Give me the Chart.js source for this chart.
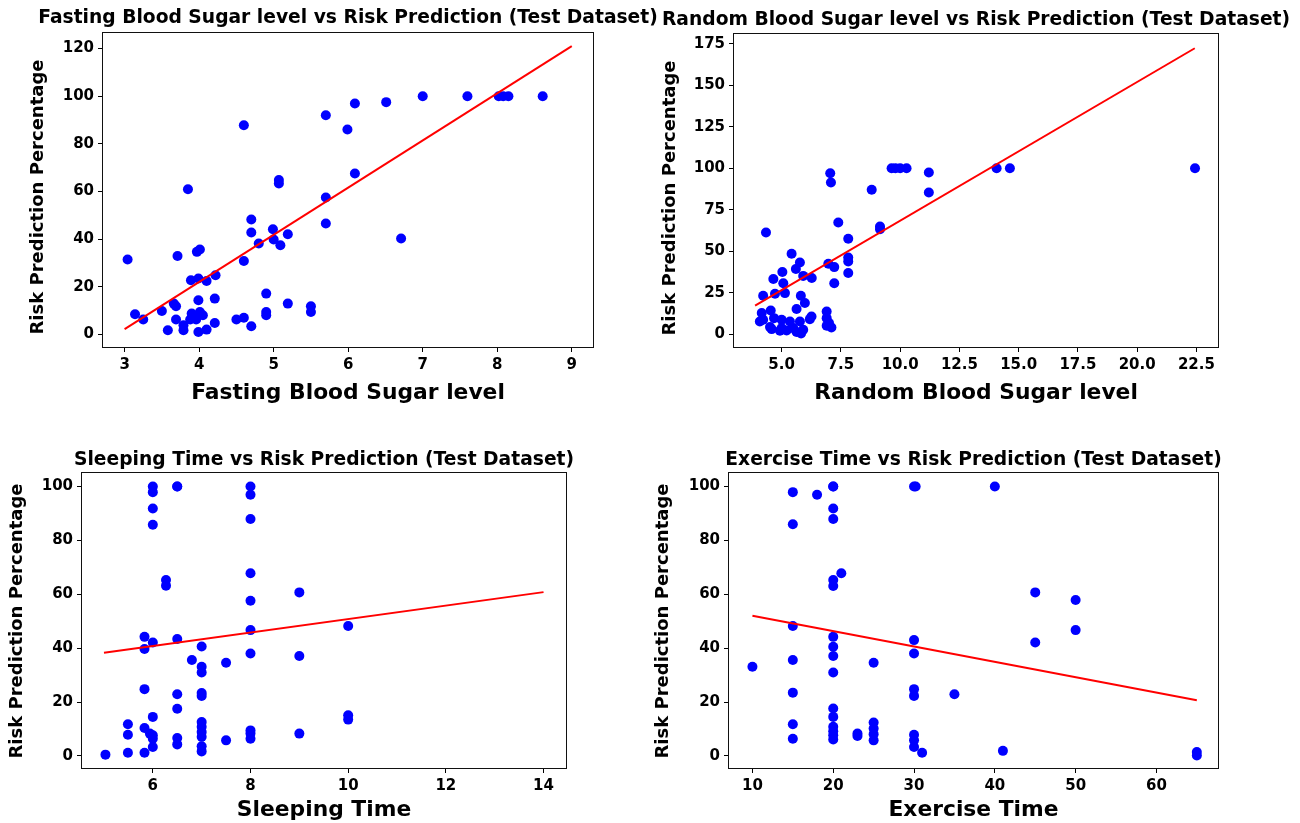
<!DOCTYPE html>
<html>
<head>
<meta charset="utf-8">
<script src="https://cdn.jsdelivr.net/npm/chart.js@4.4.0/dist/chart.umd.min.js"></script>
<style>
  body { margin: 0; background: #fff; }
  #wrap { position: relative; width: 1300px; height: 823px; overflow: hidden; }
  canvas { position: absolute; }
</style>
</head>
<body>
<div id="wrap">
  <canvas id="c1" width="700" height="420" style="left:0;top:0"></canvas>
  <canvas id="c2" width="650" height="420" style="left:650px;top:0"></canvas>
  <canvas id="c3" width="650" height="383" style="left:0;top:440px"></canvas>
  <canvas id="c4" width="650" height="383" style="left:650px;top:440px"></canvas>
</div>
<script>
// fasting blood sugar vs risk
const fbsX = [3.04, 3.14, 3.25, 3.5, 3.58, 3.66, 3.69, 3.69, 3.71, 3.79, 3.79, 3.85, 3.89, 3.99, 4.1, 4.22,
  3.97, 4.01, 3.99, 4.21, 3.9, 4.01, 4.05, 3.88, 3.96, 3.99, 4.1, 4.21, 4.5, 4.6, 4.6, 4.6, 4.7, 4.7, 4.7,
  4.8, 4.9, 4.9, 4.9, 4.99, 5.0, 5.07, 5.07, 5.09, 5.19, 5.19, 5.5, 5.5, 5.7, 5.7, 5.7, 5.99, 6.09, 6.09,
  6.51, 6.71, 7.0, 7.6, 8.02, 8.08, 8.15, 8.61];
const fbsY = [31.5, 8.5, 6.3, 9.9, 1.8, 13, 11.9, 6.3, 33, 3.9, 1.8, 61, 22.8, 23.5, 22.5, 24.9,
  34.7, 35.7, 14.4, 15.1, 8.8, 9.5, 8.1, 6.3, 6.3, 1.1, 2.1, 4.9, 6.3, 7.1, 87.8, 30.9, 3.5, 48.3, 42.8,
  38.2, 17.2, 9.5, 8.1, 44.2, 39.9, 64.8, 63.4, 37.5, 42.1, 13.0, 11.9, 9.5, 92, 57.5, 46.6, 86, 96.9, 67.6,
  97.5, 40.3, 100, 100, 100, 100, 100, 100];
const fbsFitX = [3, 9];
const fbsFitY = [2.3, 121];
const fbsXTicks = [3, 4, 5, 6, 7, 8, 9];
const fbsYTicks = [0, 20, 40, 60, 80, 100, 120];

// random blood sugar vs risk
const rbsX = [4.34, 4.22, 4.65, 5.03, 5.07, 4.72, 5.14, 5.42, 5.6, 5.77, 5.91, 6.27, 5.81, 5.98, 5.63,
  4.16, 4.54, 4.22, 4.68, 5.0, 4.08, 4.51, 5.0, 5.35, 5.77, 6.19, 6.26, 5.49, 5.91, 5.21, 4.58, 4.93, 5.63,
  5.82, 6.9, 6.9, 7.0, 6.9, 7.1, 6.97, 7.22, 7.22, 7.05, 7.08, 7.39, 7.81, 7.81, 7.81, 7.81, 8.8, 9.15,
  9.15, 9.64, 9.8, 10.0, 10.27, 11.21, 11.21, 14.07, 14.63, 22.44];
const rbsY = [61.3, 23.1, 33.2, 37.4, 30.7, 24.3, 24.7, 48.4, 39.2, 43.2, 35.1, 33.8, 23.1, 18.7, 15.1,
  12.7, 14.2, 8.6, 9.6, 8.6, 7.6, 4.2, 3.6, 7.6, 7.6, 9.0, 10.6, 3.6, 2.6, 2.2, 3.0, 2.0, 1.2,
  0.4, 13.6, 9.6, 6.6, 5.0, 4.0, 42.4, 40.4, 30.7, 97, 91.4, 67.3, 57.5, 46.2, 43.8, 36.8, 87, 64.9,
  63.3, 100, 100, 100, 100, 97.5, 85.4, 100, 100, 100];
const rbsFitX = [3.88, 22.43];
const rbsFitY = [17.1, 172.4];
const rbsXTicks = [5, 7.5, 10, 12.5, 15, 17.5, 20, 22.5];
const rbsYTicks = [0, 25, 50, 75, 100, 125, 150, 175];

// sleeping time vs risk
const sleepX = [5.03, 5.49, 5.49, 5.49, 5.83, 5.83, 5.94, 5.83, 5.83, 5.83, 6, 6, 6, 6, 6, 6, 6, 6, 6,
  6.27, 6.27, 6.5, 6.5, 6.5, 6.5, 6.5, 6.5, 6.5, 6.8, 7, 7, 7, 7, 7, 7, 7, 7, 7, 7, 7, 7.5, 7.5,
  8, 8, 8, 8, 8, 8, 8, 8, 8, 8, 9, 9, 9, 10, 10, 10];
const sleepY = [0.5, 1.2, 7.9, 11.8, 1.2, 10.4, 8.3, 24.8, 39.7, 44.2, 100, 97.9, 91.8, 85.8, 42.1, 14.5, 7.7, 6.4, 3.3,
  65.3, 63.2, 100, 100, 43.4, 22.9, 17.5, 6.7, 4.3, 35.6, 40.6, 33.1, 31.0, 23.4, 22.3, 12.6, 10.8, 8.9, 7.1, 3.6, 1.7, 34.6, 5.8,
  100, 96.9, 87.9, 67.8, 57.6, 46.7, 38.0, 9.5, 8.3, 6.4, 60.7, 37.1, 8.3, 48.2, 15.1, 13.5];
const sleepFitX = [5, 14];
const sleepFitY = [38.3, 60.8];
const sleepXTicks = [6, 8, 10, 12, 14];
const sleepYTicks = [0, 20, 40, 60, 80, 100];

// exercise time vs risk
const exX = [10, 15, 15, 15, 15, 15, 15, 15, 18, 20, 20, 20, 20, 21, 20, 20, 20, 20, 20, 20, 20, 20, 20, 20, 20, 20,
  23, 23, 25, 25, 25, 25, 25, 30, 30.2, 30, 30, 30, 30, 30, 30, 30, 31, 35, 40, 41, 45, 45, 50, 50, 65, 65];
const exY = [33.1, 97.9, 86.0, 48.2, 35.6, 23.5, 11.8, 6.4, 96.9, 100, 100, 91.8, 87.9, 67.8, 65.3, 63.1, 44.2, 40.5,
  37.1, 31.0, 17.6, 14.5, 10.8, 9.2, 7.7, 6.1, 8.3, 7.4, 34.6, 12.4, 10.2, 8.1, 5.8, 100, 100, 43.0, 38.0, 24.8, 22.3,
  7.9, 5.8, 3.3, 1.2, 22.9, 100, 1.9, 60.7, 42.1, 57.9, 46.7, 1.5, 0.2];
const exFitX = [10, 65];
const exFitY = [52, 20.7];
const exXTicks = [10, 20, 30, 40, 50, 60];
const exYTicks = [0, 20, 40, 60, 80, 100];

const yLabel = 'Risk Prediction Percentage';

Chart.defaults.font.family = '"DejaVu Sans", sans-serif';
Chart.defaults.font.weight = 'bold';
Chart.defaults.color = '#000';

// frame round the plot area, the panel title and the y label
const panelPlugin = {
  id: 'panel',
  afterDraw(chart, args, opts) {
    const { ctx, chartArea: a } = chart;
    ctx.save();
    ctx.strokeStyle = '#111';
    ctx.lineWidth = 1;
    ctx.strokeRect(a.left - 0.5, a.top - 0.5, a.right - a.left + 1, a.bottom - a.top + 1);
    ctx.fillStyle = '#000';
    ctx.textAlign = 'center';
    ctx.textBaseline = 'middle';
    ctx.font = 'bold 18.7px "DejaVu Sans"';
    ctx.fillText(opts.title, (a.left + a.right) / 2, opts.titleY);
    ctx.translate(opts.labelX, opts.labelY);
    ctx.rotate(-Math.PI / 2);
    ctx.font = 'bold 18px "DejaVu Sans"';
    ctx.fillText(yLabel, 0, 0);
    ctx.restore();
  }
};

function makeChart(id, p) {
  const points = p.x.map((v, i) => ({ x: v, y: p.y[i] }));
  const fit = p.fitX.map((v, i) => ({ x: v, y: p.fitY[i] }));
  const tickFont = { size: 15, weight: 'bold' };
  return new Chart(document.getElementById(id), {
    type: 'scatter',
    data: {
      datasets: [
        { data: fit, showLine: true, borderColor: 'red', borderWidth: 2, pointRadius: 0, order: 1 },
        { data: points, backgroundColor: 'blue', pointRadius: 5, borderWidth: 0, order: 2 }
      ]
    },
    options: {
      responsive: false,
      animation: false,
      events: [],
      layout: { padding: { top: p.top, right: p.right, left: 0, bottom: 0 } },
      plugins: {
        legend: { display: false },
        tooltip: { enabled: false },
        panel: { title: p.title, titleY: p.titleY, labelX: p.labelX, labelY: p.labelY }
      },
      scales: {
        x: {
          type: 'linear',
          min: p.xMin, max: p.xMax,
          afterFit: s => { s.height = p.xh; },
          afterBuildTicks: s => { s.ticks = p.xTicks.map(v => ({ value: v })); },
          ticks: { font: tickFont, padding: 4, maxRotation: 0, autoSkip: false,
            callback: v => v.toFixed(p.xDec) },
          grid: { drawOnChartArea: false, color: '#000', tickLength: 5 },
          border: { display: false },
          title: { display: true, text: p.xLabel, font: { size: 21.8, weight: 'bold' },
            padding: { top: 0, bottom: p.xPad } }
        },
        y: {
          type: 'linear',
          min: p.yMin, max: p.yMax,
          afterFit: s => { s.width = p.yw; },
          afterBuildTicks: s => { s.ticks = p.yTicks.map(v => ({ value: v })); },
          ticks: { font: tickFont, padding: 4, autoSkip: false, callback: v => String(v) },
          grid: { drawOnChartArea: false, color: '#000', tickLength: 5 },
          border: { display: false }
        }
      }
    },
    plugins: [panelPlugin]
  });
}

makeChart('c1', {
  x: fbsX, y: fbsY, fitX: fbsFitX, fitY: fbsFitY, xTicks: fbsXTicks, yTicks: fbsYTicks, xDec: 0,
  xMin: 2.71, xMax: 9.285, yMin: -5.2, yMax: 126.5,
  title: 'Fasting Blood Sugar level vs Risk Prediction (Test Dataset)', titleY: 18,
  xLabel: 'Fasting Blood Sugar level', labelX: 38, labelY: 197,
  top: 33, right: 107, xh: 73, yw: 103, xPad: 14
});

makeChart('c2', {
  x: rbsX, y: rbsY, fitX: rbsFitX, fitY: rbsFitY, xTicks: rbsXTicks, yTicks: rbsYTicks, xDec: 1,
  xMin: 2.99, xMax: 23.41, yMin: -7.8, yMax: 181,
  title: 'Random Blood Sugar level vs Risk Prediction (Test Dataset)', titleY: 20,
  xLabel: 'Random Blood Sugar level', labelX: 20, labelY: 198,
  top: 34, right: 82, xh: 73, yw: 84, xPad: 14
});

makeChart('c3', {
  x: sleepX, y: sleepY, fitX: sleepFitX, fitY: sleepFitY, xTicks: sleepXTicks, yTicks: sleepYTicks, xDec: 0,
  xMin: 4.55, xMax: 14.46, yMin: -4.46, yMax: 105,
  title: 'Sleeping Time vs Risk Prediction (Test Dataset)', titleY: 20,
  xLabel: 'Sleeping Time', labelX: 17, labelY: 181,
  top: 33, right: 84, xh: 55, yw: 82, xPad: 0
});

makeChart('c4', {
  x: exX, y: exY, fitX: exFitX, fitY: exFitY, xTicks: exXTicks, yTicks: exYTicks, xDec: 0,
  xMin: 7.1, xMax: 67.62, yMin: -4.46, yMax: 105,
  title: 'Exercise Time vs Risk Prediction (Test Dataset)', titleY: 20,
  xLabel: 'Exercise Time', labelX: 13, labelY: 181,
  top: 33, right: 82, xh: 55, yw: 79, xPad: 0
});
</script>
</body>
</html>
